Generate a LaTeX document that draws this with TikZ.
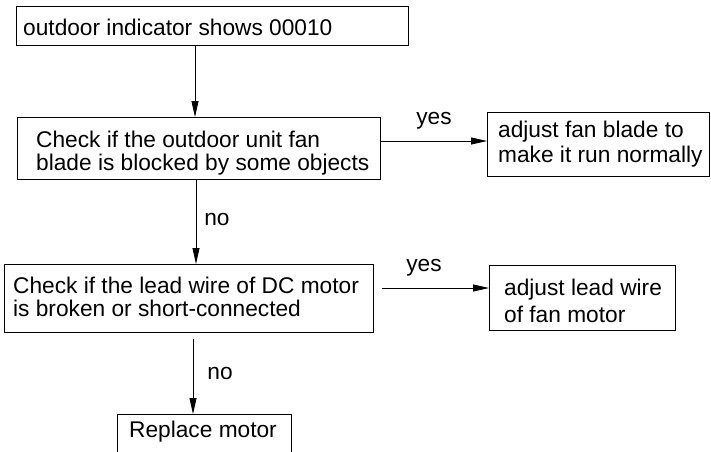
\documentclass[tikz,border=0pt]{standalone}
\usepackage{fontspec}
\setmainfont{Liberation Sans}
\usetikzlibrary{arrows.meta}
\tikzset{
  box/.style={draw, line width=0.8pt, anchor=north west, inner sep=0pt},
  txt/.style={anchor=west, align=left, inner sep=0pt, font=\fontsize{22.7}{23}\selectfont},
  lbl/.style={inner sep=0pt, font=\fontsize{22.7}{23}\selectfont},
  arr/.style={line width=0.8pt, -{Triangle[length=16pt,width=7pt]}}
}
\begin{document}
\begin{tikzpicture}[x=1pt,y=-1pt]
\clip (0,0) rectangle (711,451);
\useasboundingbox (0,0) rectangle (711,451);
% boxes
\node[box, minimum width=392pt, minimum height=39pt] (b1) at (16,6) {};
\node[txt] (t1) at ([xshift=7pt,yshift=-1pt]b1.west) {outdoor indicator shows 00010};
\node[box, minimum width=363pt, minimum height=62pt] (b2) at (17,117) {};
\node[txt] (t2) at ([xshift=19pt,yshift=-4.5pt]b2.west) {Check if the outdoor unit fan\\blade is blocked by some objects};
\node[box, minimum width=222pt, minimum height=64pt] (b3) at (487,112) {};
\node[txt, font=\fontsize{22.7}{25}\selectfont] (t3) at ([xshift=11pt,yshift=0.5pt]b3.west) {adjust fan blade to\\make it run normally};
\node[box, minimum width=369pt, minimum height=68pt] (b4) at (4,264) {};
\node[txt] (t4) at ([xshift=9pt,yshift=2pt]b4.west) {Check if the lead wire of DC motor\\is broken or short-connected};
\node[box, minimum width=186pt, minimum height=65pt] (b5) at (489,265) {};
\node[txt, font=\fontsize{22.7}{27.5}\selectfont] (t5) at ([xshift=15pt,yshift=-3pt]b5.west) {adjust lead wire\\of fan motor};
\node[box, minimum width=174pt, minimum height=60pt] (b6) at (117,414) {};
\node[txt, anchor=base west] (t6) at (129,437) {Replace motor};
% connectors
\coordinate (c1) at (195,0);
\coordinate (c2) at (196,0);
\coordinate (c3) at (193,0);
\draw[arr] (b1.south -| c1) -- (b2.north -| c1);
\draw[arr] (b2.south -| c2) -- (b4.north -| c2);
\draw[arr] ([yshift=-6pt]b4.south -| c3) -- (b6.north -| c3);
\coordinate (y1) at (0,141);
\coordinate (y2s) at (382,288);
\draw[arr] (b2.east |- y1) -- (b3.west |- y1);
\draw[arr] (y2s) -- (b5.west |- y2s);
% labels
\node[lbl] (l1) at (434,121) {yes};
\node[lbl] (l2) at (217,219) {no};
\node[lbl] (l3) at (424,268) {yes};
\node[lbl] (l4) at (220,373) {no};
\end{tikzpicture}
\end{document}
